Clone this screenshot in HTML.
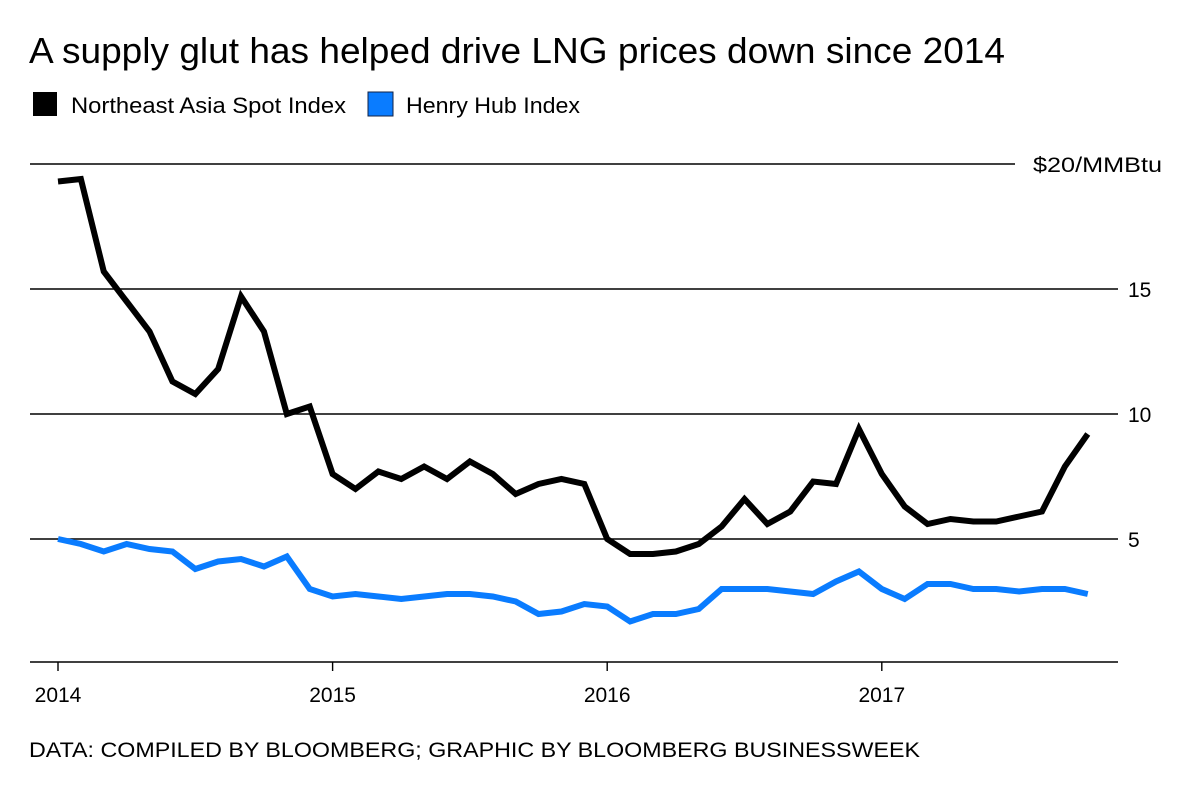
<!DOCTYPE html>
<html><head><meta charset="utf-8"><style>
body{margin:0;background:#fff;font-family:"Liberation Sans",sans-serif}
svg{display:block}
</style></head><body>
<svg width="1200" height="786" xmlns="http://www.w3.org/2000/svg" font-family="Liberation Sans, sans-serif">
<text x="29" y="63" font-size="36" textLength="976" lengthAdjust="spacingAndGlyphs" fill="#000">A supply glut has helped drive LNG prices down since 2014</text>
<g>
<rect x="33" y="92" width="24" height="24" fill="#000"/>
<text x="71" y="113" font-size="22" textLength="275" lengthAdjust="spacingAndGlyphs">Northeast Asia Spot Index</text>
<rect x="368" y="92" width="25" height="24" fill="#0a7cff" stroke="#124" stroke-width="1"/>
<text x="406" y="113" font-size="22" textLength="174" lengthAdjust="spacingAndGlyphs">Henry Hub Index</text>
</g>
<g id="grid"></g>
<g id="series"></g>
<text x="29" y="757" font-size="21" textLength="891" lengthAdjust="spacingAndGlyphs">DATA: COMPILED BY BLOOMBERG; GRAPHIC BY BLOOMBERG BUSINESSWEEK</text>
</svg>
<script>
const yTicks=[5,10,15,20];
const yTickLabels=["5","10","15","$20/MMBtu"];
const years=[2014,2015,2016,2017];
const asia=[19.3,19.4,15.7,14.5,13.3,11.3,10.8,11.8,14.7,13.3,10.0,10.3,7.6,7.0,7.7,7.4,7.9,7.4,8.1,7.6,6.8,7.2,7.4,7.2,5.0,4.4,4.4,4.5,4.8,5.5,6.6,5.6,6.1,7.3,7.2,9.4,7.6,6.3,5.6,5.8,5.7,5.7,5.9,6.1,7.9,9.2];
const henry=[5.0,4.8,4.5,4.8,4.6,4.5,3.8,4.1,4.2,3.9,4.3,3.0,2.7,2.8,2.7,2.6,2.7,2.8,2.8,2.7,2.5,2.0,2.1,2.4,2.3,1.7,2.0,2.0,2.2,3.0,3.0,3.0,2.9,2.8,3.3,3.7,3.0,2.6,3.2,3.2,3.0,3.0,2.9,3.0,3.0,2.8];
const NS="http://www.w3.org/2000/svg";
const y=v=>664-v*25;
const x=m=>58+m*(274.6/12);
const g=document.getElementById('grid'),s=document.getElementById('series');
function mk(t,a,p){const e=document.createElementNS(NS,t);for(const k in a)e.setAttribute(k,a[k]);p.appendChild(e);return e;}
yTicks.forEach((v,i)=>{
 const last=i===yTicks.length-1;
 const l=mk('line',{x1:30,x2:last?1015:1118,y1:y(v),y2:y(v),stroke:'#000','stroke-width':1.6},g);
 
 
 const t=mk('text',{x:last?1033:1128,y:y(v)+8,'font-size':21},g);
 if(last){t.setAttribute('textLength',129);t.setAttribute('lengthAdjust','spacingAndGlyphs');}
 t.textContent=yTickLabels[i];
 
 
});
const ax=mk('line',{x1:30,x2:1118,y1:662,y2:662,stroke:'#000','stroke-width':1.6},g);


years.forEach((yr,i)=>{
 const px=x(i*12);
 const tk=mk('line',{x1:px,x2:px,y1:662,y2:671,stroke:'#000','stroke-width':1.4},g);
 
 
 const t=mk('text',{x:px,y:702,'font-size':21,'text-anchor':'middle'},g);
 t.textContent=yr;
 
 
});
function line(d,c,n){
 const p=mk('polyline',{points:d.map((v,i)=>x(i)+','+y(v)).join(' '),fill:'none',stroke:c,'stroke-width':6,'stroke-linejoin':'miter','stroke-miterlimit':3},s);
 
 
}
line(henry,'#0a7cff','henry-hub-line');
line(asia,'#000','northeast-asia-line');
</script>
</body></html>
